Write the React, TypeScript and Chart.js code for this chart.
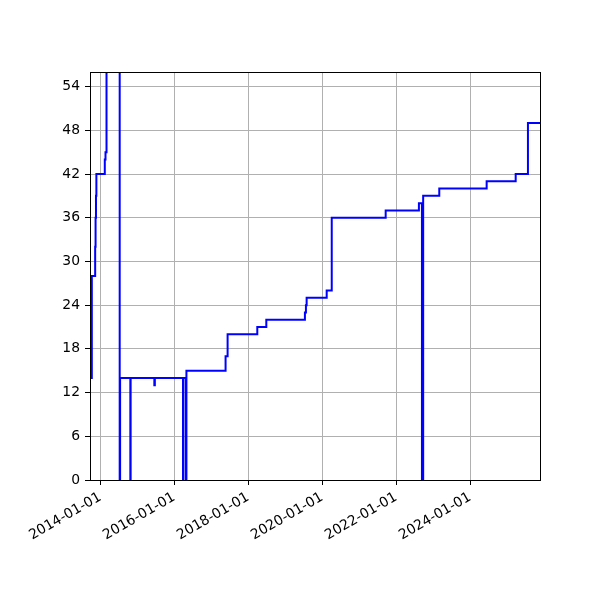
import React, { useEffect, useRef } from 'react';
import { Chart, registerables } from 'chart.js';

Chart.register(...registerables);

// change points of the step line (value holds until the next date)
const dates: string[] = [
  '2013-10-01', '2013-10-10', '2013-11-12', '2013-11-16', '2013-11-20',
  '2013-11-24', '2014-02-15', '2014-02-22', '2014-03-04', '2014-07-12',
  '2014-07-16', '2014-10-25', '2014-10-28', '2015-06-19', '2015-06-24',
  '2016-03-28', '2016-04-01', '2016-04-26', '2016-05-01', '2017-05-23',
  '2017-06-12', '2018-04-01', '2018-06-29', '2019-07-15', '2019-07-25',
  '2019-08-01', '2020-02-15', '2020-04-05', '2021-09-20', '2022-08-14',
  '2022-09-13', '2022-09-25', '2023-03-03', '2024-06-13', '2025-03-27',
  '2025-07-26', '2025-11-22',
];
const values: number[] = [
  14, 28, 32, 36, 39,
  42, 44, 45, 80, 0,
  14, 0, 14, 13, 14,
  0, 14, 0, 15, 17,
  20, 21, 22, 23, 24,
  25, 26, 36, 37, 38,
  0, 39, 40, 41, 42,
  49, 49,
];

const xStart = '2013-09-22';
const xEnd = '2025-11-22';
const tickYears: number[] = [2014, 2016, 2018, 2020, 2022, 2024];
const yTicks: number[] = [0, 6, 12, 18, 24, 30, 36, 42, 48, 54];
const yMax = 56;

function toYear(s: string): number {
  const [y, m, d] = s.split('-').map(Number);
  const start = Date.UTC(y, 0, 1);
  const end = Date.UTC(y + 1, 0, 1);
  return y + (Date.UTC(y, m - 1, d) - start) / (end - start);
}

const font = { family: 'DejaVu Sans', size: 13.9 };

const frame = {
  id: 'frame',
  afterDatasetsDraw(chart: Chart) {
    const { ctx, chartArea } = chart;
    ctx.save();
    ctx.strokeStyle = '#000';
    ctx.lineWidth = 1;
    ctx.strokeRect(
      Math.round(chartArea.left) + 0.5,
      Math.round(chartArea.top) + 0.5,
      Math.round(chartArea.right - chartArea.left),
      Math.round(chartArea.bottom - chartArea.top)
    );
    ctx.restore();
  },
};

const App: React.FC = () => {
  const chartRef = useRef<HTMLCanvasElement | null>(null);

  useEffect(() => {
    let chartInstance: Chart | null = null;
    if (chartRef.current) {
      const ctx = chartRef.current.getContext('2d');
      if (ctx) {
        chartInstance = new Chart(ctx, {
          type: 'line',
          data: {
            datasets: [
              {
                data: dates.map((d, i) => ({ x: toYear(d), y: values[i] })),
                borderColor: '#0000ff',
                borderWidth: 2,
                pointRadius: 0,
                stepped: 'before',
                fill: false,
              },
            ],
          },
          options: {
            animation: false,
            responsive: false,
            devicePixelRatio: 1,
            layout: { padding: { left: 0, top: 72, right: 60, bottom: 0 } },
            plugins: {
              legend: { display: false },
              tooltip: { enabled: false },
            },
            scales: {
              x: {
                type: 'linear',
                min: toYear(xStart),
                max: toYear(xEnd),
                afterBuildTicks: (scale: any) => {
                  scale.ticks = tickYears.map((v) => ({ value: v }));
                },
                afterFit: (scale: any) => {
                  scale.height = 120;
                  scale.paddingLeft = 0;
                  scale.paddingRight = 0;
                },
                ticks: {
                  autoSkip: false,
                  minRotation: 30,
                  maxRotation: 30,
                  padding: 4,
                  color: '#000',
                  font,
                  callback: (v: any) => `${Math.round(Number(v))}-01-01`,
                },
                grid: {
                  color: '#b0b0b0',
                  lineWidth: 1,
                  tickColor: '#000',
                  tickLength: 5,
                },
                border: { display: true, color: '#000', width: 1 },
              },
              y: {
                type: 'linear',
                min: 0,
                max: yMax,
                afterBuildTicks: (scale: any) => {
                  scale.ticks = yTicks.map((v) => ({ value: v }));
                },
                afterFit: (scale: any) => {
                  scale.width = 90;
                },
                ticks: {
                  padding: 5,
                  color: '#000',
                  font,
                },
                grid: {
                  color: '#b0b0b0',
                  lineWidth: 1,
                  tickColor: '#000',
                  tickLength: 5,
                },
                border: { display: true, color: '#000', width: 1 },
              },
            },
          },
          plugins: [frame],
        });
      }
    }
    return () => {
      if (chartInstance) {
        chartInstance.destroy();
      }
    };
  }, []);

  return (
    <div style={{ position: 'absolute', left: 0, top: 0, width: '600px', height: '600px', background: '#fff' }}>
      <canvas ref={chartRef} width={600} height={600}></canvas>
    </div>
  );
};

export default App;
